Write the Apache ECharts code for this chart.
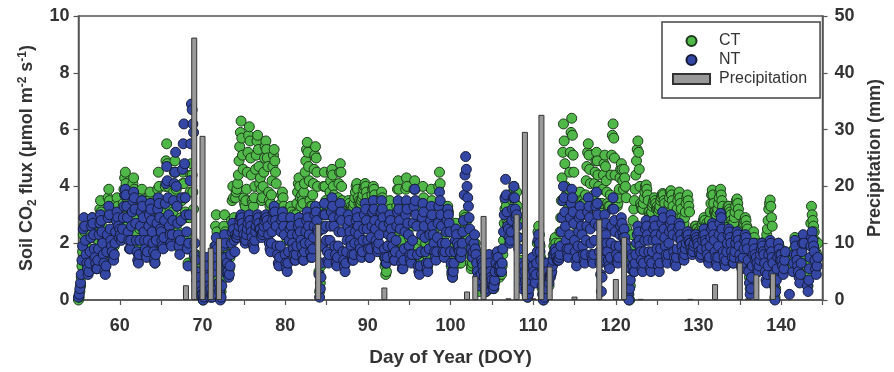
<!DOCTYPE html>
<html><head><meta charset="utf-8">
<script src="https://cdn.jsdelivr.net/npm/echarts@6/dist/echarts.min.js"></script>
<style>html,body{margin:0;padding:0;background:#fff}#c{width:894px;height:372px}</style>
</head><body><div id="c"></div>
<script>
// ---- data ----
const startDay = 55;                                       // first day of year in the record
const hours = [0, 2, 4, 6, 8, 10, 12, 14, 16, 18, 20, 22]; // sampling hours within each day
// Soil CO2 flux (umol m-2 s-1), conventional tillage (CT), one row per day, DOY 55..144
const ctFlux = [
[0.0,0.1,0.3,0.5,0.8,1.2,1.7,2.3,2.6,2.4,2.0,1.5],[1.4,1.2,1.0,1.1,1.4,1.8,2.3,2.7,2.9,2.6,2.2,1.7],
[1.8,1.5,1.3,1.3,1.6,2.1,2.7,3.2,3.5,3.1,2.6,2.1],[2.0,1.6,1.3,1.2,1.6,2.3,3.0,3.6,3.9,3.5,2.9,2.4],
[2.2,1.9,1.7,1.6,1.9,2.4,2.9,3.4,3.6,3.3,2.8,2.5],[2.8,2.6,2.4,2.5,2.9,3.4,3.9,4.3,4.5,4.1,3.6,3.1],
[2.7,2.4,2.1,2.1,2.5,3.1,3.7,4.1,4.3,3.9,3.4,2.9],[2.4,2.0,1.7,1.6,1.9,2.5,3.1,3.6,3.9,3.5,3.0,2.6],
[2.4,2.0,1.8,1.7,2.0,2.5,3.0,3.5,3.8,3.4,2.9,2.6],[2.3,1.8,1.5,1.3,1.7,2.4,3.2,3.9,4.5,4.0,3.3,2.7],
[2.8,2.4,2.1,2.0,2.5,3.2,4.0,4.9,5.5,4.8,4.0,3.3],[2.9,2.5,2.2,2.1,2.5,3.1,3.8,4.5,4.9,4.5,3.9,3.3],
[2.8,2.4,2.0,1.8,2.2,2.9,3.5,4.1,4.5,4.1,3.6,3.1],[2.9,2.3,1.8,1.3,2.0,2.9,3.8,4.4,4.8,4.4,3.8,3.2],
[1.5,1.2,1.6,1.0,0.7,0.5,0.3,0.2,0.6,0.4,0.2,0.1],[0.1,0.0,0.1,0.2,0.4,0.7,1.0,1.2,1.0,0.7,0.4,0.2],
[0.3,0.2,0.1,0.2,0.6,1.2,1.9,2.6,3.0,2.4,1.5,0.7],[0.5,0.2,0.1,0.3,0.7,1.3,2.0,2.6,3.0,2.4,1.7,1.1],
[1.6,1.3,1.0,1.1,1.5,2.1,2.8,3.5,4.0,3.6,2.9,2.3],[3.6,3.8,3.9,4.1,4.4,4.9,5.4,5.9,6.3,5.7,5.1,4.6],
[3.6,3.4,3.3,3.5,3.9,4.5,5.2,5.8,6.1,5.6,5.0,4.4],[3.5,3.4,3.3,3.6,4.0,4.6,5.1,5.6,5.8,5.3,4.7,4.1],
[4.3,3.9,3.5,3.6,4.0,4.5,5.0,5.4,5.6,5.3,5.0,4.7],[3.8,3.5,3.3,3.4,3.7,4.2,4.7,5.1,5.3,4.9,4.5,4.1],
[2.9,2.8,2.7,2.8,2.9,3.1,3.4,3.7,3.8,3.6,3.3,3.1],[2.7,2.4,2.2,2.1,2.3,2.6,2.9,3.2,3.3,3.1,2.9,2.8],
[3.0,2.8,2.6,2.7,3.0,3.4,3.8,4.1,4.3,4.0,3.6,3.3],[3.7,3.5,3.4,3.8,4.1,4.5,4.9,5.3,5.55,5.2,4.7,4.2],
[3.5,3.3,3.2,3.3,3.7,4.1,4.6,5.1,5.4,5.0,4.5,4.0],[3.2,1.0,0.3,0.6,1.2,1.9,2.6,3.3,4.0,4.5,4.0,3.5],
[3.4,3.2,3.0,3.1,3.4,3.8,4.2,4.5,4.6,4.4,4.0,3.7],[3.1,3.0,2.9,2.9,3.2,3.6,4.1,4.5,4.8,4.5,4.0,3.5],
[3.0,2.9,2.9,3.0,3.1,3.2,3.3,3.4,3.5,3.4,3.2,3.1],[3.3,3.2,3.2,3.3,3.4,3.6,3.8,4.0,4.1,3.9,3.6,3.4],
[3.5,3.4,3.4,3.5,3.6,3.7,3.9,4.0,4.1,4.0,3.8,3.6],[3.3,3.1,3.0,3.1,3.3,3.5,3.7,3.9,4.0,3.9,3.7,3.5],
[2.6,2.4,2.2,2.3,2.6,2.9,3.3,3.6,3.8,3.6,3.2,2.9],[1.5,1.2,0.9,1.0,1.4,1.9,2.5,3.1,3.5,3.2,2.6,2.1],
[2.3,2.0,1.8,1.8,2.2,2.7,3.3,3.9,4.2,3.9,3.3,2.8],[2.1,1.7,1.5,1.4,1.8,2.5,3.2,3.9,4.3,4.0,3.3,2.7],
[2.2,1.9,1.7,1.6,2.0,2.6,3.3,3.9,4.2,3.9,3.3,2.7],[1.9,1.5,1.2,1.1,1.5,2.1,2.8,3.5,4.0,3.6,2.9,2.4],
[2.0,1.6,1.3,1.2,1.5,2.1,2.8,3.4,3.9,3.5,2.9,2.4],[2.4,2.0,1.7,1.6,2.0,2.6,3.3,4.0,4.5,4.1,3.4,2.8],
[2.2,1.9,1.7,1.6,1.9,2.3,2.7,3.1,3.3,3.1,2.8,2.5],[1.6,1.2,0.9,0.8,1.1,1.5,2.0,2.4,2.7,2.4,2.1,1.8],
[1.8,1.5,1.3,1.3,1.6,2.0,2.4,2.8,3.0,2.9,2.6,2.3],[2.8,2.5,2.2,1.9,1.6,1.3,1.1,1.2,1.3,1.5,1.7,1.9],
[2.0,1.7,1.4,1.1,0.8,0.5,0.3,0.5,0.8,1.2,1.1,1.0],[0.8,0.6,0.4,0.3,0.3,0.5,0.7,0.9,1.0,0.9,0.7,0.6],
[0.6,0.5,0.4,0.4,0.6,0.8,1.0,1.1,1.2,1.1,0.9,0.8],[1.0,0.9,0.9,1.2,1.6,2.1,2.7,3.2,3.5,3.3,2.8,2.3],
[2.7,2.4,2.2,2.3,2.7,3.1,3.5,3.8,4.0,3.8,3.4,3.1],[3.8,3.3,2.8,2.2,1.8,1.4,1.1,0.8,0.7,0.9,1.1,1.2],
[1.1,0.8,0.5,0.3,0.1,0.2,0.4,0.7,0.9,1.2,1.3,1.4],[1.3,1.0,0.8,0.7,1.0,1.5,2.0,2.4,2.6,2.3,1.9,1.5],
[0.8,0.4,0.2,0.0,0.1,0.3,0.6,0.9,1.1,0.9,0.7,0.5],[0.9,0.9,1.0,1.2,1.4,1.6,1.9,2.1,2.2,2.0,1.8,1.7],
[1.8,1.9,2.0,2.4,2.9,3.5,4.3,5.2,6.2,5.6,4.8,4.0],[3.7,3.5,3.4,3.5,3.9,4.5,5.2,5.9,6.4,5.8,5.1,4.5],
[2.9,2.8,2.7,2.6,2.8,3.0,3.3,3.6,3.8,3.5,3.2,3.0],[3.5,3.4,3.3,3.4,3.7,4.2,4.7,5.2,5.5,5.1,4.6,4.1],
[3.5,3.4,3.3,3.5,3.7,4.1,4.5,4.9,5.2,4.9,4.4,4.0],[3.4,3.2,3.0,3.1,3.4,3.9,4.4,4.8,5.1,4.7,4.2,3.8],
[3.4,3.3,3.2,3.3,3.7,4.4,5.1,5.8,6.2,5.7,5.0,4.4],[3.5,3.4,3.3,3.4,3.6,3.9,4.3,4.6,4.8,4.6,4.2,3.9],
[4.6,4.3,4.0,3.6,2.5,1.5,0.6,0.2,0.0,0.5,1.1,1.8],[2.3,2.8,3.2,3.5,3.9,4.4,4.9,5.3,5.6,5.2,4.6,4.0],
[3.4,3.3,3.2,3.2,3.4,3.6,3.8,4.0,4.05,3.9,3.7,3.5],[3.1,3.0,2.9,3.0,3.1,3.3,3.4,3.5,3.6,3.5,3.4,3.2],
[3.3,3.2,3.1,3.2,3.3,3.5,3.6,3.7,3.75,3.7,3.5,3.4],[3.1,3.0,2.9,3.0,3.2,3.4,3.6,3.8,3.85,3.7,3.5,3.3],
[3.0,2.9,2.8,2.8,3.0,3.2,3.5,3.7,3.8,3.6,3.4,3.2],[2.9,2.7,2.6,2.7,2.9,3.1,3.4,3.6,3.7,3.5,3.3,3.1],
[2.4,2.3,2.1,2.2,2.3,2.4,2.5,2.6,2.6,2.5,2.5,2.4],[2.4,2.3,2.2,2.3,2.4,2.6,2.7,2.8,2.9,2.8,2.6,2.5],
[2.7,2.6,2.5,2.6,2.8,3.1,3.4,3.7,3.87,3.7,3.4,3.1],[3.1,3.0,3.0,3.1,3.2,3.4,3.6,3.8,3.9,3.7,3.5,3.3],
[3.0,2.9,2.8,2.9,3.0,3.1,3.2,3.3,3.3,3.2,3.1,3.0],[2.8,2.7,2.6,2.7,2.9,3.1,3.3,3.5,3.56,3.4,3.2,3.0],
[2.4,2.3,2.2,2.3,2.4,2.6,2.7,2.8,2.9,2.8,2.6,2.5],[1.7,1.2,0.8,0.4,0.7,1.2,1.7,2.1,2.4,2.2,2.0,1.8],
[1.7,1.5,1.4,1.3,1.5,1.7,1.9,2.0,2.0,1.95,1.8,1.7],[2.0,2.0,2.1,2.3,2.5,2.8,3.2,3.4,3.52,3.3,2.9,2.6],
[1.6,1.1,0.6,0.1,0.4,0.8,1.3,1.7,2.0,1.9,1.8,1.7],[1.7,1.5,1.3,1.2,1.4,1.6,1.7,null,null,null,null,null],
[null,null,null,null,null,1.2,1.5,1.8,2.2,2.0,1.7,1.5],[1.4,1.2,1.0,0.9,1.2,1.5,1.8,2.0,2.2,2.0,null,null],
[null,null,0.7,0.5,0.9,1.4,2.0,2.7,3.3,3.0,2.8,2.6],[2.4,2.1,1.7,1.4,1.6,2.0,null,null,null,null,null,null]
];
// Soil CO2 flux (umol m-2 s-1), no tillage (NT), one row per day, DOY 55..144
const ntFlux = [
[0.1,0.2,0.4,0.6,0.9,1.4,1.9,2.5,2.9,2.6,2.1,1.6],[1.3,1.1,0.9,1.0,1.3,1.7,2.2,2.6,2.9,2.7,2.3,1.8],
[1.5,1.3,1.1,1.1,1.4,1.8,2.3,2.7,3.0,2.8,2.4,2.0],[1.6,1.3,1.0,0.9,1.2,1.7,2.3,2.9,3.3,3.0,2.5,2.1],
[1.9,1.7,1.5,1.4,1.6,2.0,2.4,2.8,3.1,2.9,2.6,2.2],[2.5,2.3,2.1,2.2,2.5,2.9,3.3,3.7,3.9,3.7,3.3,2.9],
[2.4,2.1,1.8,1.8,2.1,2.6,3.1,3.5,3.8,3.6,3.2,2.7],[2.1,1.7,1.4,1.3,1.6,2.1,2.6,3.1,3.5,3.3,2.9,2.4],
[2.1,1.8,1.6,1.5,1.7,2.1,2.6,3.0,3.4,3.2,2.8,2.4],[2.0,1.7,1.4,1.3,1.6,2.1,2.7,3.2,3.6,3.4,2.9,2.5],
[2.4,2.1,1.9,1.8,2.2,2.8,3.4,4.1,4.7,4.2,3.6,3.0],[2.6,2.3,2.0,1.9,2.3,2.8,3.5,4.1,4.5,5.2,4.0,3.3],
[2.7,2.3,1.9,1.6,2.1,2.8,3.6,4.6,5.5,6.2,4.8,3.6],[3.0,2.4,1.8,1.2,2.0,3.0,4.2,5.5,6.9,6.7,6.2,5.9],
[1.6,2.0,1.4,1.0,0.7,0.5,0.3,0.2,0.8,0.5,0.3,0.2],[0.2,0.0,0.1,0.3,0.6,1.0,1.3,1.5,1.2,0.8,0.5,0.1],
[0.4,0.2,0.1,0.2,0.5,1.0,1.5,1.9,2.2,1.8,1.2,0.6],[0.6,0.3,0.0,0.1,0.5,1.0,1.5,1.9,2.3,2.0,1.5,1.0],
[1.3,1.0,0.8,0.9,1.2,1.6,2.0,2.4,2.7,2.5,2.1,1.7],[2.3,2.2,2.2,2.3,2.4,2.6,2.8,2.9,3.0,2.9,2.7,2.5],
[2.3,2.1,2.0,2.1,2.3,2.5,2.7,2.9,3.0,2.8,2.6,2.4],[2.2,2.0,1.9,1.8,2.1,2.4,2.6,2.8,3.0,2.9,2.7,2.5],
[2.5,2.3,2.2,2.3,2.4,2.6,2.8,2.9,3.0,2.9,2.8,2.6],[2.3,2.0,1.8,1.7,2.0,2.4,2.8,3.1,3.3,3.1,2.8,2.6],
[1.9,1.6,1.3,1.2,1.5,1.9,2.4,2.8,3.1,2.9,2.6,2.3],[1.6,1.3,1.1,1.0,1.3,1.7,2.1,2.5,2.9,2.6,2.3,2.0],
[1.8,1.6,1.4,1.4,1.6,1.9,2.3,2.6,2.9,2.7,2.4,2.1],[1.9,1.6,1.4,1.4,1.7,2.0,2.4,2.8,3.1,2.9,2.6,2.3],
[2.0,1.7,1.5,1.5,1.8,2.2,2.6,3.0,3.3,3.1,2.8,2.5],[2.4,0.9,0.1,0.4,0.8,1.3,1.9,2.5,3.0,3.4,3.0,2.6],
[2.1,1.7,1.4,1.3,1.6,2.1,2.6,3.1,3.6,3.3,2.9,2.6],[1.9,1.6,1.3,1.2,1.5,1.9,2.4,2.9,3.4,3.1,2.8,2.4],
[1.7,1.4,1.2,1.0,1.3,1.7,2.1,2.6,3.0,2.8,2.4,2.1],[1.9,1.6,1.4,1.4,1.6,2.0,2.4,2.8,3.1,2.9,2.6,2.3],
[2.0,1.8,1.6,1.5,1.7,2.1,2.5,3.0,3.4,3.2,2.8,2.5],[2.1,1.8,1.5,1.5,1.8,2.2,2.6,3.1,3.5,3.2,2.8,2.5],
[2.1,1.9,1.7,1.8,2.0,2.3,2.7,3.1,3.5,3.2,2.9,2.6],[1.8,1.5,1.3,1.3,1.5,1.9,2.3,2.7,3.0,2.8,2.5,2.2],
[1.9,1.6,1.4,1.4,1.7,2.1,2.6,3.1,3.5,3.2,2.8,2.5],[1.6,1.3,1.1,1.1,1.4,1.8,2.4,3.0,3.5,3.2,2.7,2.3],
[1.9,1.6,1.4,1.3,1.6,2.1,2.7,3.3,3.9,3.5,3.0,2.6],[1.6,1.2,1.0,0.9,1.2,1.7,2.3,2.9,3.4,3.1,2.6,2.2],
[1.7,1.3,1.1,1.0,1.3,1.8,2.3,2.8,3.3,3.0,2.6,2.3],[2.0,1.7,1.5,1.4,1.7,2.2,2.7,3.3,3.8,3.5,3.0,2.6],
[2.0,1.7,1.6,1.5,1.7,2.0,2.4,2.8,3.2,3.0,2.7,2.4],[1.7,1.3,1.0,0.8,1.0,1.3,1.7,2.1,2.5,2.3,2.0,1.8],
[1.9,1.7,1.5,1.5,1.7,2.0,2.4,2.8,3.7,4.4,5.05,4.6],[4.0,3.6,3.3,2.9,2.5,2.1,1.8,1.6,1.5,1.7,2.0,2.3],
[1.8,1.6,1.3,1.0,0.8,0.6,0.5,0.7,0.9,1.4,1.3,1.2],[1.0,0.8,0.5,0.3,0.4,0.6,0.9,1.3,1.6,1.3,1.0,0.8],
[0.7,0.5,0.4,0.5,0.7,1.0,1.3,1.6,1.7,1.5,1.2,1.0],[1.2,1.0,1.0,1.3,1.8,2.4,3.0,3.6,4.25,3.7,3.1,2.6],
[2.5,2.2,2.0,2.1,2.4,2.8,3.2,3.6,4.0,3.6,3.2,2.9],[3.0,2.6,2.2,1.8,1.3,1.0,0.7,0.5,0.4,0.7,0.9,1.2],
[1.0,0.7,0.4,0.2,0.1,0.2,0.4,0.7,0.9,1.2,1.4,1.5],[1.2,1.0,0.8,0.6,0.9,1.3,1.7,2.1,2.3,2.0,1.7,1.4],
[0.9,0.5,0.2,0.0,0.1,0.4,0.7,1.0,1.3,1.0,0.8,0.6],[0.8,0.8,0.9,1.0,1.2,1.4,1.6,1.7,1.8,1.7,1.5,1.4],
[1.4,1.4,1.5,1.6,1.9,2.4,2.9,3.5,4.0,3.6,3.1,2.6],[2.1,1.8,1.6,1.5,1.8,2.3,2.9,3.4,3.9,3.6,3.1,2.7],
[2.1,1.7,1.4,1.2,1.5,1.9,2.4,2.9,3.3,3.0,2.6,2.3],[1.9,1.6,1.4,1.3,1.6,2.1,2.6,3.1,3.6,3.3,2.9,2.5],
[2.0,1.6,1.4,1.3,1.6,2.1,2.7,3.3,3.8,3.4,3.0,2.6],[1.7,1.3,0.9,0.3,0.8,1.4,2.0,2.6,3.0,2.7,2.3,2.0],
[1.7,1.4,1.2,1.1,1.5,2.0,2.6,3.2,3.6,3.2,2.8,2.4],[1.9,1.6,1.4,1.3,1.5,1.9,2.3,2.6,2.9,2.7,2.4,2.2],
[2.5,2.2,2.0,1.8,1.2,0.6,0.2,0.0,0.4,0.7,1.1,1.6],[1.5,1.2,1.0,1.0,1.3,1.6,2.0,2.3,2.6,2.4,2.1,1.9],
[1.7,1.4,1.1,1.0,1.3,1.7,2.1,2.5,2.8,2.6,2.3,2.1],[1.7,1.4,1.1,1.0,1.3,1.7,2.1,2.5,2.8,2.6,2.3,2.1],
[1.8,1.5,1.2,1.0,1.3,1.8,2.3,2.7,3.1,2.9,2.5,2.2],[1.9,1.6,1.4,1.3,1.6,2.0,2.4,2.7,3.0,2.8,2.5,2.3],
[1.7,1.5,1.3,1.2,1.5,1.8,2.2,2.5,2.7,2.6,2.3,2.1],[1.9,1.7,1.5,1.4,1.6,1.8,2.0,2.3,2.4,2.3,2.1,2.0],
[2.0,1.8,1.7,1.6,1.7,1.9,2.0,2.2,2.3,2.2,2.1,2.0],[1.9,1.7,1.6,1.5,1.6,1.8,2.1,2.3,2.5,2.3,2.1,2.0],
[1.8,1.6,1.4,1.3,1.5,1.9,2.2,2.5,2.7,2.6,2.3,2.1],[1.7,1.5,1.3,1.2,1.5,1.9,2.3,2.7,3.05,2.9,2.5,2.2],
[1.7,1.5,1.3,1.2,1.4,1.7,2.0,2.3,2.5,2.4,2.2,2.0],[1.7,1.5,1.3,1.3,1.5,1.7,2.0,2.2,2.4,2.3,2.1,1.9],
[1.6,1.4,1.2,1.1,1.3,1.5,1.8,2.1,2.3,2.2,2.0,1.8],[1.4,1.0,0.6,0.2,0.4,0.8,1.2,1.6,2.0,1.8,1.6,1.4],
[1.5,1.3,1.1,1.0,1.2,1.4,1.6,1.8,2.0,1.9,1.7,1.6],[1.3,1.0,0.7,0.6,0.9,1.2,1.6,1.9,2.1,2.0,1.7,1.5],
[1.3,0.9,0.5,0.0,0.3,0.7,1.1,1.5,2.0,1.8,1.6,1.4],[1.6,1.4,1.2,0.9,1.1,1.4,1.7,null,null,null,null,null],
[0.2,null,null,null,null,1.0,1.3,1.6,2.1,1.9,1.6,1.4],[1.2,1.0,0.8,0.6,0.9,1.3,1.7,2.0,2.3,2.0,null,null],
[null,null,0.5,0.3,0.7,1.1,1.5,1.9,2.2,2.4,2.1,1.9],[1.7,1.4,1.1,0.9,1.2,1.5,null,null,null,null,null,null]
];
// Daily precipitation (mm)
const precipDays = [68,69,70,71,72,84,92,102,103,104,107,108,109,110,111,112,115,118,120,121,123,129,132,135,136,137,139];
const precipMm   = [2.6,46.2,28.9,9.2,10.9,13.4,2.2,1.5,4.2,14.8,0.3,15.1,29.6,0.3,32.6,5.9,0.6,14.2,3.7,11.1,0.2,0.2,2.8,6.6,0.3,4.5,4.7];
const seriesNames = ['CT', 'NT', 'Precipitation'];

// ---- build ----
function toPoints(rows) {
  const pts = [];
  rows.forEach((row, i) => {
    row.forEach((v, j) => { if (v !== null) pts.push([startDay + i + hours[j] / 24, v]); });
  });
  return pts;
}
const ctPts = toPoints(ctFlux);
const ntPts = toPoints(ntFlux);
const barPts = precipDays.map((d, i) => [d, precipMm[i]]);

const FONT = 'Liberation Sans, Arial, sans-serif';
const TXT = '#333';
const LINE = '#555';
const labelStyle = { fontFamily: FONT, fontWeight: 'bold', fontSize: 18, color: TXT };
const nameStyle = { fontFamily: FONT, fontWeight: 'bold', fontSize: 18, color: TXT };

const chart = echarts.init(document.getElementById('c'), null, { renderer: 'canvas' });
chart.setOption({
  animation: false,
  grid: { left: 78.5, right: 71.5, top: 16, bottom: 72, show: true, borderColor: LINE, borderWidth: 1.5, containLabel: false },
  legend: {
    orient: 'vertical', left: 662, top: 22,
    data: [{ name: 'CT', icon: 'circle' }, { name: 'NT', icon: 'circle' }, { name: 'Precipitation', icon: 'rect' }],
    itemWidth: 37, itemHeight: 10, itemGap: 3,
    padding: [11, 13, 11, 10],
    borderColor: '#444', borderWidth: 1.5,
    textStyle: { fontFamily: FONT, fontSize: 16, color: TXT, lineHeight: 16, padding: [0, 0, 0, 4] }
  },
  xAxis: {
    type: 'value', min: 55, max: 145, interval: 5,
    axisLine: { show: true, lineStyle: { color: LINE, width: 1.5 } },
    axisTick: { show: true, length: 5, lineStyle: { color: LINE, width: 1.2 } },
    axisLabel: Object.assign({ margin: 17, formatter: v => (v % 10 === 0 ? String(v) : '') }, labelStyle),
    splitLine: { show: false },
    name: 'Day of Year (DOY)', nameLocation: 'middle', nameGap: 48,
    nameTextStyle: Object.assign({}, nameStyle, { fontSize: 19 })
  },
  yAxis: [
    {
      type: 'value', min: 0, max: 10, interval: 2, position: 'left',
      axisLine: { show: true, lineStyle: { color: LINE, width: 1.5 } },
      axisTick: { show: true, length: 5, lineStyle: { color: LINE, width: 1.2 } },
      axisLabel: Object.assign({ margin: 9 }, labelStyle),
      splitLine: { show: false },
      name: 'Soil CO{sub|2} flux (\u03bcmol m{sup|-2} s{sup|-1})',
      nameLocation: 'middle', nameRotate: 90, nameGap: 40,
      nameTextStyle: Object.assign({ lineHeight: 22, rich: {
        sub: { fontFamily: FONT, fontWeight: 'bold', fontSize: 12, color: TXT, lineHeight: 22, verticalAlign: 'bottom' },
        sup: { fontFamily: FONT, fontWeight: 'bold', fontSize: 12, color: TXT, lineHeight: 22, verticalAlign: 'top' }
      } }, nameStyle)
    },
    {
      type: 'value', min: 0, max: 50, interval: 10, position: 'right',
      axisLine: { show: true, lineStyle: { color: LINE, width: 1.5 } },
      axisTick: { show: true, length: 5, lineStyle: { color: LINE, width: 1.2 } },
      axisLabel: Object.assign({ margin: 12 }, labelStyle),
      splitLine: { show: false },
      name: 'Precipitation (mm)', nameLocation: 'middle', nameRotate: 90, nameGap: 44,
      nameTextStyle: nameStyle
    }
  ],
  series: [
    { name: seriesNames[0], type: 'scatter', data: ctPts, symbol: 'circle', symbolSize: 10, xAxisIndex: 0, yAxisIndex: 0, z: 2,
      itemStyle: { color: '#4fb848', borderColor: '#1e3a1c', borderWidth: 1, opacity: 1 } },
    { name: seriesNames[1], type: 'scatter', data: ntPts, symbol: 'circle', symbolSize: 10, xAxisIndex: 0, yAxisIndex: 0, z: 3,
      itemStyle: { color: '#3447a5', borderColor: '#161c3a', borderWidth: 1, opacity: 1 } },
    { name: seriesNames[2], type: 'bar', data: barPts, xAxisIndex: 0, yAxisIndex: 1, barWidth: 6, z: 5,
      itemStyle: { color: '#999999', borderColor: '#333', borderWidth: 1 } }
  ]
});
</script></body></html>
